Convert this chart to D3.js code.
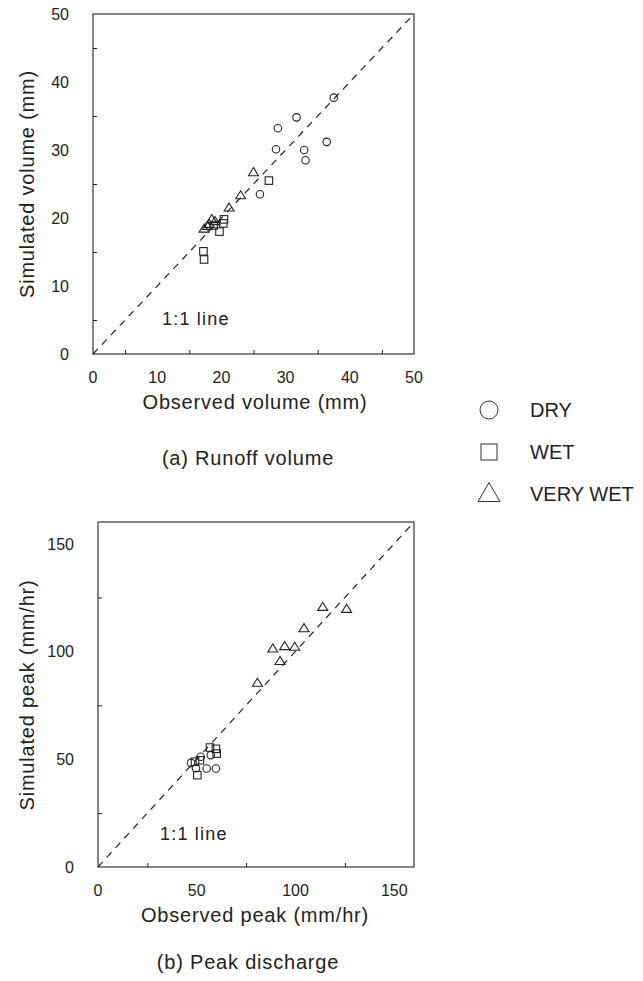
<!DOCTYPE html>
<html>
<head>
<meta charset="utf-8">
<title>Runoff volume and peak discharge</title>
<script src="https://d3js.org/d3.v7.min.js"></script>
<style>
  body { margin: 0; background: #fff; }
  svg text { font-family: "Liberation Sans", Arial, Helvetica, sans-serif; fill: #222; }
</style>
</head>
<body>
<svg id="chart" width="643" height="981"></svg>
<script>
// (a) runoff volume, mm  [observed, simulated]
var volDry = [[37.5, 37.7], [31.7, 34.8], [28.8, 33.2], [28.5, 30.1], [36.4, 31.2],
              [32.9, 30.0], [33.1, 28.5], [26.0, 23.5]];
var volWet = [[27.4, 25.5], [20.4, 19.8], [20.3, 19.2], [19.7, 18.0], [18.8, 18.9],
              [17.2, 15.1], [17.3, 13.9]];
var volVeryWet = [[25.0, 26.7], [23.0, 23.3], [21.2, 21.5], [18.5, 19.8], [18.1, 19.1],
                  [17.3, 18.4], [17.8, 18.8], [19.0, 19.5]];

// (b) peak discharge, mm/hr  [observed, simulated]
var peakDry = [[47.1, 48.3], [55.0, 45.7], [59.7, 45.7], [52.0, 51.1], [57.1, 51.9], [49.6, 45.8]];
var peakWet = [[56.7, 55.4], [59.7, 54.8], [60.1, 52.6], [50.3, 42.6], [49.1, 48.8], [51.6, 49.5]];
var peakVeryWet = [[113.8, 120.5], [125.9, 119.6], [104.3, 110.6], [88.5, 101.2], [94.5, 102.3],
                   [99.6, 102.0], [92.2, 95.4], [80.7, 85.3]];

var volTicks = [0, 10, 20, 30, 40, 50];
var volMinor = [5, 15, 25, 35, 45];
var peakTicks = [0, 50, 100, 150];
var peakMinor = [25, 75, 125];

var legendNames = ["DRY", "WET", "VERY WET"];

var svg = d3.select("#chart");

function marker(g, kind, x, y, s) {
  if (kind === 0) {
    g.append("circle").attr("cx", x).attr("cy", y).attr("r", s / 2);
  } else if (kind === 1) {
    g.append("rect").attr("x", x - s / 2).attr("y", y - s / 2).attr("width", s).attr("height", s);
  } else {
    var h = s * 0.9;
    g.append("path").attr("d", "M" + x + "," + (y - h * 0.6) + "L" + (x + s / 2 + 0.5) + "," + (y + h * 0.4) +
      "L" + (x - s / 2 - 0.5) + "," + (y + h * 0.4) + "Z");
  }
}

function panel(o) {
  var x = d3.scaleLinear().domain(o.xDomain).range([o.left, o.right]);
  var y = d3.scaleLinear().domain(o.yDomain).range([o.bottom, o.top]);
  var g = svg.append("g");

  // frame
  g.append("rect").attr("x", o.left).attr("y", o.top)
    .attr("width", o.right - o.left).attr("height", o.bottom - o.top)
    .attr("fill", "none").attr("stroke", "#222").attr("stroke-width", 1.1);

  // inward ticks (between the labelled values)
  var ax = d3.axisBottom(x).tickValues(o.minor).tickSizeInner(-4).tickSizeOuter(0).tickFormat("");
  g.append("g").attr("transform", "translate(0," + o.bottom + ")").call(ax);
  var ay = d3.axisLeft(y).tickValues(o.minor).tickSizeInner(-4).tickSizeOuter(0).tickFormat("");
  g.append("g").attr("transform", "translate(" + o.left + ",0)").call(ay);
  g.selectAll(".domain").remove();
  g.selectAll(".tick line").attr("stroke", "#222");

  // tick labels
  g.selectAll(".xl").data(o.ticks).enter().append("text")
    .attr("x", function (d) { return x(d); }).attr("y", o.bottom + 29)
    .attr("text-anchor", "middle").attr("font-size", 16).text(function (d) { return d; });
  g.selectAll(".yl").data(o.ticks).enter().append("text")
    .attr("x", o.left - 24).attr("y", function (d) { return y(d) + 6; })
    .attr("text-anchor", "end").attr("font-size", 16).text(function (d) { return d; });

  // 1:1 line
  var m = Math.min(o.xDomain[1], o.yDomain[1]);
  g.append("line").attr("x1", x(0)).attr("y1", y(0)).attr("x2", x(m)).attr("y2", y(m))
    .attr("stroke", "#222").attr("stroke-width", 1.2).attr("stroke-dasharray", "7,6");
  g.append("text").attr("x", o.left + o.noteDx).attr("y", o.noteY)
    .attr("font-size", 18).attr("letter-spacing", 1.2).text("1:1 line");

  // points
  var pts = g.append("g").attr("fill", "none").attr("stroke", "#222").attr("stroke-width", 1.1);
  o.series.forEach(function (s, k) {
    s.forEach(function (d) { marker(pts, k, x(d[0]), y(d[1]), k === 2 ? 9 : 7.5); });
  });

  // titles
  g.append("text").attr("x", 255).attr("y", o.bottom + 55)
    .attr("text-anchor", "middle").attr("font-size", 20).attr("letter-spacing", 0.8).text(o.xTitle);
  g.append("text").attr("transform", "translate(" + 34 + "," + o.yTitleY + ") rotate(-90)")
    .attr("text-anchor", "middle").attr("font-size", 20).attr("letter-spacing", 0.8).text(o.yTitle);
  g.append("text").attr("x", 248).attr("y", o.captionY)
    .attr("text-anchor", "middle").attr("font-size", 20).attr("letter-spacing", 0.8).text(o.caption);
}

panel({
  left: 93, right: 414, top: 14, bottom: 354,
  xDomain: [0, 50], yDomain: [0, 50], ticks: volTicks, minor: volMinor,
  series: [volDry, volWet, volVeryWet],
  noteDx: 69, noteY: 325,
  xTitle: "Observed volume (mm)",
  yTitle: "Simulated volume (mm)", yTitleY: 184,
  caption: "(a) Runoff volume", captionY: 465
});

panel({
  left: 98, right: 414, top: 522, bottom: 867,
  xDomain: [0, 160], yDomain: [0, 160], ticks: peakTicks, minor: peakMinor,
  series: [peakDry, peakWet, peakVeryWet],
  noteDx: 62, noteY: 840,
  xTitle: "Observed peak (mm/hr)",
  yTitle: "Simulated peak (mm/hr)", yTitleY: 695,
  caption: "(b) Peak discharge", captionY: 969
});

// legend
var lg = svg.append("g");
var ly = d3.scalePoint().domain(legendNames).range([410, 494]);
var lsym = lg.append("g").attr("fill", "none").attr("stroke", "#333").attr("stroke-width", 1);
legendNames.forEach(function (n, k) {
  marker(lsym, k, 489, ly(n), k === 2 ? 21 : (k === 0 ? 18 : 16));
  lg.append("text").attr("x", 530).attr("y", ly(n) + 7).attr("font-size", 20).text(n);
});
</script>
</body>
</html>
